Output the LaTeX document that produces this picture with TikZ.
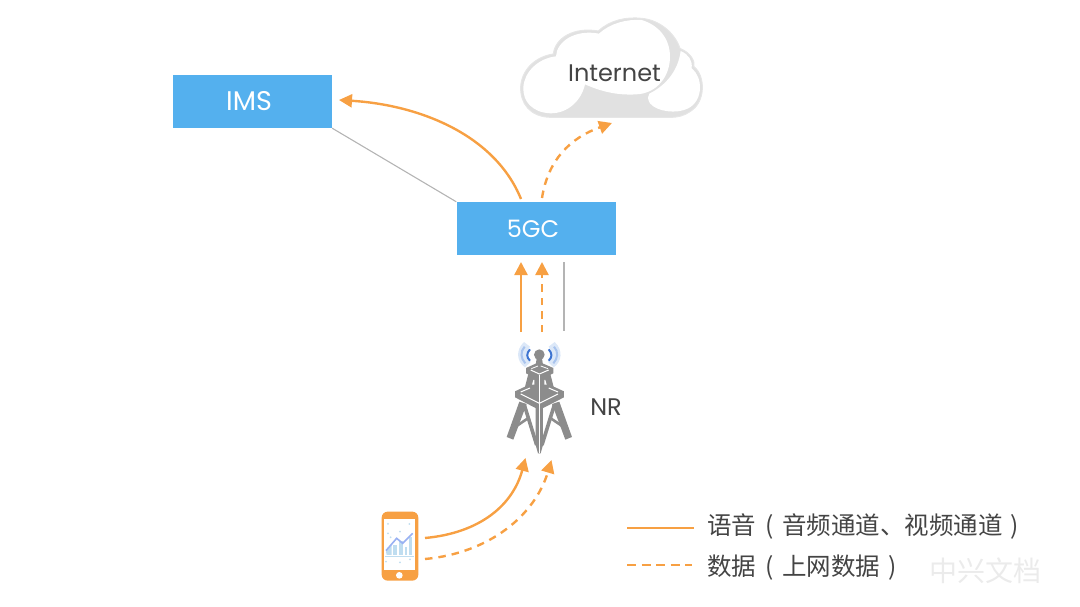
\documentclass[tikz,border=0pt]{standalone}
\usepackage{fontspec}
\setmainfont{Poppins}
\newfontfamily\cjk{Noto Sans CJK SC}
\usetikzlibrary{arrows.meta}
\definecolor{boxblue}{HTML}{54B0EE}
\definecolor{flow}{HTML}{F7A043}
\definecolor{ink}{HTML}{444444}
\definecolor{linkgrey}{HTML}{B4B4B4}
\definecolor{cloudgrey}{HTML}{E1E1E1}
\definecolor{towergrey}{HTML}{8C8C8C}
\definecolor{chartblue}{HTML}{BFDDF0}
\definecolor{markgrey}{HTML}{EBEBEB}
\definecolor{halo}{HTML}{DCE8F8}
\definecolor{waveout}{HTML}{A9C4EE}
\definecolor{wavein}{HTML}{3D74D1}
\tikzset{
  netbox/.style={draw=none,fill=boxblue,minimum width=159pt,minimum height=53pt,inner sep=0pt,text=white,font=\fontsize{24}{26}\selectfont},
  voice/.style={draw=flow,line width=2.4pt,-{Triangle[length=13pt,width=13pt]}},
  datal/.style={voice,dash pattern=on 7.5pt off 6pt},
  legendsolid/.style={draw=flow,line width=2.4pt},
  legenddash/.style={draw=flow,line width=2.4pt,dash pattern=on 9pt off 5.5pt},
  link/.style={draw=linkgrey,line width=1.1pt},
  label/.style={text=ink,inner sep=0pt,font=\fontsize{24}{26}\selectfont},
  legendtext/.style={text=ink,inner sep=0pt,anchor=west,font=\cjk\fontsize{24.5}{26}\selectfont},
}
\newcommand{\lp}{\hspace{9pt}(\hspace{9pt}}
\newcommand{\rp}{\hspace{8pt})}
\begin{document}
\begin{tikzpicture}[x=1pt,y=-1pt]
\useasboundingbox (0,0) rectangle (1080,607);

% cloud
\begin{scope}[shift={(510,5)},x=.3333pt,y=-.3333pt]
\fill[cloudgrey,draw=cloudgrey!85!white,line width=1pt]
  (120,337) .. controls (60,335) and (30,295) .. (32,245)
  .. controls (35,195) and (75,155) .. (130,147)
  .. controls (135,100) and (190,65) .. (265,78)
  .. controls (300,45) and (350,35) .. (395,40)
  .. controls (450,45) and (495,85) .. (510,130)
  .. controls (545,145) and (555,170) .. (552,185)
  .. controls (585,210) and (590,290) .. (540,320)
  .. controls (520,333) and (505,337) .. (480,337) -- cycle;
\fill[white]
  (122,325) .. controls (68,323) and (38,290) .. (40,247)
  .. controls (43,200) and (85,160) .. (138,154)
  .. controls (140,110) and (195,72) .. (267,86)
  .. controls (300,55) and (350,42) .. (395,45)
  .. controls (445,60) and (480,100) .. (480,155)
  .. controls (480,215) and (440,265) .. (380,268)
  .. controls (320,272) and (270,258) .. (225,238)
  .. controls (215,285) and (175,325) .. (122,325) -- cycle;
\fill[white]
  (512,138) .. controls (535,148) and (548,165) .. (545,190)
  .. controls (578,215) and (582,285) .. (535,310)
  .. controls (500,328) and (440,320) .. (420,295)
  .. controls (412,282) and (413,272) .. (418,266)
  .. controls (470,240) and (505,195) .. (512,138) -- cycle;
\end{scope}
\node[label] (internet) at (614.5,73) {Internet};
\coordinate (cloudin) at (612,123);

% boxes
\node[netbox,font=\fontsize{27}{29}\selectfont,text height=19pt,text depth=0pt] (ims) at (252.5,101.5) {\hspace*{-7pt}\raisebox{0pt}{IMS}};
\node[netbox,text height=17pt,text depth=0pt] (gc) at (536,228.5) {\hspace*{-6pt}5GC};

% tower
\begin{scope}[shift={(490,330)},x=.3333pt,y=-.3333pt]
\fill[halo] (102,36) .. controls (76,60) and (80,95) .. (105,112) -- (122,96) .. controls (108,80) and (110,62) .. (120,50) -- cycle;
\fill[halo] (194,36) .. controls (220,60) and (216,95) .. (191,112) -- (174,96) .. controls (188,80) and (186,62) .. (176,50) -- cycle;
\draw[waveout,line width=2pt] (104,50) .. controls (90,65) and (92,85) .. (106,100);
\draw[wavein,line width=2pt] (120,58) .. controls (109,70) and (109,82) .. (120,92);
\draw[waveout,line width=2pt] (192,50) .. controls (206,65) and (204,85) .. (190,100);
\draw[wavein,line width=2pt] (176,58) .. controls (187,70) and (187,82) .. (176,92);
\fill[towergrey] (148,74) circle (16);
\fill[towergrey] (140,85) -- (156,85) -- (160,112) -- (136,112) -- cycle;
% outer lower legs
\fill[towergrey] (88,215) -- (110,222) -- (70,329) -- (50,321) -- cycle;
\fill[towergrey] (208,215) -- (186,222) -- (226,329) -- (246,321) -- cycle;
% upper legs and body
\fill[towergrey] (116,128) -- (180,128) -- (196,190) -- (100,190) -- cycle;
\fill[white] (130,150) -- (133,150) -- (133,175) -- (122,178) -- cycle;
\fill[white] (166,150) -- (163,150) -- (163,175) -- (174,178) -- cycle;
% centre mast
\fill[towergrey] (137,140) -- (159,140) -- (159,345) -- (152,370) -- (144,370) -- (137,345) -- cycle;
% inner braces
\draw[towergrey,line width=3.6pt] (103,225) -- (140,345);
\draw[towergrey,line width=3.6pt] (193,225) -- (156,345);
\draw[towergrey,line width=2.6pt] (74,292) -- (118,262);
\draw[towergrey,line width=2.6pt] (222,292) -- (178,262);
% lower platform
\fill[towergrey] (75,184) -- (118,164) -- (178,164) -- (222,184) -- (222,202) -- (148,240) -- (75,202) -- cycle;
\draw[white,line width=1pt] (92,192) -- (148,220) -- (204,192);
\draw[white,line width=1pt] (92,186) -- (120,174);
\draw[white,line width=1pt] (204,186) -- (176,174);
% upper platform
\fill[towergrey] (108,114) -- (148,96) -- (190,114) -- (190,130) -- (148,150) -- (108,130) -- cycle;
\draw[white,line width=1pt] (122,120) -- (148,132) -- (176,120);
\draw[white,line width=.8pt] (124,116) -- (144,108);
\draw[white,line width=.8pt] (174,116) -- (152,108);
% mast split
\fill[white] (146.5,134) rectangle (149.5,368);
\end{scope}
\node[inner sep=0pt,minimum width=70pt,minimum height=110pt] (nr) at (539,398) {};
\node[label] (nrlabel) at (606,407) {NR};
\coordinate (towerA) at (521,332);
\coordinate (towerB) at (542,332);
\coordinate (towerC) at (564,331);
\coordinate (gcA) at (521,262);
\coordinate (gcB) at (542,262);
\coordinate (gcC) at (564,262);
\coordinate (towerD) at (525.5,458);
\coordinate (towerE) at (551.5,460);
\coordinate (gcD) at (521,199);
\coordinate (gcE) at (542,198);
\coordinate (imsin) at (339,100);

% phone
\begin{scope}[shift={(360,450)},x=.3333pt,y=-.3333pt]
\fill[flow,rounded corners=6pt] (65,185) rectangle (175,392);
\fill[white] (72,208) rectangle (166,360);
\fill[white] (118,376) circle (10);
\fill[chartblue] (80,315) -- (78,305) -- (95,285) -- (95,315) -- cycle;
\fill[chartblue] (100,315) rectangle (110,285);
\fill[chartblue] (118,315) rectangle (128,272);
\fill[chartblue] (134,315) rectangle (142,290);
\fill[chartblue] (148,315) rectangle (157,260);
\draw[chartblue!80!blue,line width=1.6pt] (78,302) -- (110,265) -- (128,280) -- (158,250);
\draw[chartblue,line width=1pt] (76,320) -- (162,320);
\foreach \p in {(84,222),(148,222),(84,250),(92,262),(120,245),(78,335),(150,328),(120,337)}
  \fill[chartblue] \p circle (3);
\end{scope}
\node[inner sep=0pt,minimum width=38pt,minimum height=69pt] (phone) at (400,546.5) {};
\coordinate (phoneA) at (425,538);
\coordinate (phoneB) at (425,559);

% connectors
\draw[link] (ims.south east) -- (gc.north west);
\draw[link] (gcC) -- (towerC);
\draw[voice] (gcD) .. controls (495,135) and (420,105) .. (imsin);
\draw[datal] (gcE) .. controls (548,160) and (570,138) .. (cloudin);
\draw[voice] (towerA) -- (gcA);
\draw[datal] (towerB) -- (gcB);
\draw[voice] (phoneA) .. controls (480,533) and (513,505) .. (towerD);
\draw[datal] (phoneB) .. controls (490,553) and (535,515) .. (towerE);

% legend
\coordinate (la) at (627,528);
\coordinate (lb) at (694,528);
\coordinate (lc) at (627,565);
\coordinate (ld) at (692,565);
\draw[legendsolid] (la) -- (lb);
\draw[legenddash] (lc) -- (ld);
\node[legendtext] (t1) at (707,527) {语音\lp 音频通道、视频通道\rp};
\node[legendtext] (t2) at (707,568) {数据\lp 上网数据\rp};
\node[text=markgrey,inner sep=0pt,font=\cjk\fontsize{28}{30}\selectfont] (mark) at (985,571) {中兴文档};
\end{tikzpicture}
\end{document}
